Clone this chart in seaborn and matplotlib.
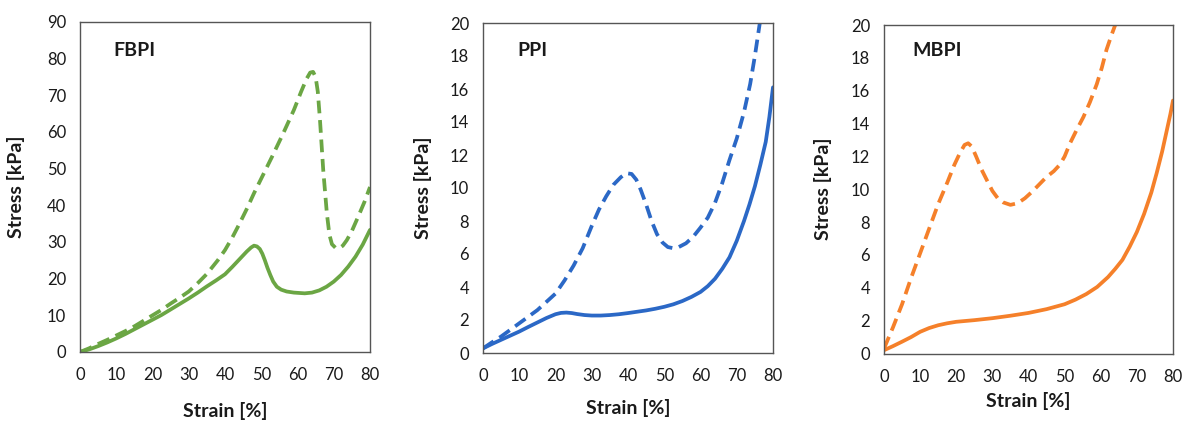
import numpy as np
import pandas as pd
import matplotlib
matplotlib.use("Agg")
import matplotlib.pyplot as plt
import seaborn as sns

# ---------------- data ----------------
fbpi_solid_x = [0, 2.5, 5, 7.5, 10, 12.5, 15, 17.5, 20, 22.5, 25, 27.5, 30, 32.5, 35, 37.5, 40, 42, 44, 46,
                47.2, 48, 48.8, 49.6, 50.3, 51, 51.7, 52.5, 53.3, 54.3, 55.5, 57, 59, 62, 64, 66, 68, 70,
                72, 74, 76, 78, 80]
fbpi_solid_y = [0, 0.7, 1.6, 2.6, 3.7, 4.9, 6.2, 7.5, 8.8, 10.1, 11.6, 13.1, 14.6, 16.2, 17.9, 19.5, 21.2, 23.2,
                25.3, 27.4, 28.5, 29.0, 28.8, 28.1, 26.8, 25.0, 23.0, 21.0, 19.2, 17.8, 17.0, 16.5, 16.2, 16.0,
                16.2, 16.8, 17.8, 19.2, 21.0, 23.3, 26.0, 29.3, 33.3]
fbpi_dash_x = [0, 2.5, 5, 7.5, 10, 12.5, 15, 17.5, 20, 22.5, 25, 27.5, 30, 32.5, 35, 38, 40, 42, 44, 46, 48,
               50, 53, 56, 59, 61, 62.5, 63.5, 64.3, 65, 65.6, 66.2, 67.1, 68.1, 68.8, 69.5, 70.5, 71.5,
               72.5, 73.6, 75, 77, 78.5, 80]
fbpi_dash_y = [0, 1.0, 2.2, 3.3, 4.5, 5.7, 7.0, 8.5, 10.0, 11.5, 13.2, 14.8, 16.5, 18.8, 21.3, 25.0, 27.8, 31.2,
               35.0, 39.0, 43.3, 47.3, 53.3, 59.5, 66.0, 71.0, 74.5, 76.2, 76.4, 75.0, 71.0, 63.3, 49.6,
               37.8, 32.0, 29.4, 28.4, 28.3, 29.0, 30.5, 33.0, 37.5, 41.0, 45.0]

ppi_solid_x = [0, 2.5, 5, 7.5, 10, 12.5, 15, 17.5, 20, 21.5, 23, 24.5, 26, 28, 30, 32.5, 35, 37.5, 40, 42.5,
               45, 47.5, 50, 52.5, 55, 57.5, 60, 62, 64, 66, 68, 70, 72, 73.5, 75, 76.5, 78, 79, 80]
ppi_solid_y = [0.28, 0.55, 0.8, 1.05, 1.3, 1.58, 1.85, 2.12, 2.35, 2.43, 2.45, 2.42, 2.36, 2.3, 2.27, 2.27,
               2.3, 2.35, 2.42, 2.5, 2.58, 2.68, 2.8, 2.95, 3.15, 3.4, 3.7, 4.05, 4.5, 5.1, 5.8, 6.8, 8.0,
               9.0, 10.1, 11.4, 12.8, 14.3, 16.1]
ppi_dash_x = [0, 2.5, 5, 7.5, 10, 12.5, 15, 17.5, 20, 22.5, 25, 27.5, 30, 32, 34, 36, 38, 39.5, 41, 42.3,
              43.5, 45, 46.5, 48, 49.5, 51, 52.5, 54, 56, 58, 60, 62, 64, 66, 68, 70, 72, 73.7, 75, 76.5]
ppi_dash_y = [0.28, 0.65, 1.0, 1.4, 1.8, 2.2, 2.6, 3.1, 3.6, 4.4, 5.3, 6.35, 7.7, 8.7, 9.5, 10.2, 10.65, 10.9,
              10.85, 10.5, 9.9, 9.0, 8.0, 7.2, 6.7, 6.42, 6.35, 6.42, 6.65, 7.05, 7.6, 8.2, 9.1, 10.3,
              11.7, 13.0, 14.6, 16.3, 18.0, 20.2]

mbpi_solid_x = [0, 2.5, 5, 7.5, 10, 12.5, 15, 17.5, 20, 25, 30, 35, 40, 45, 50, 53, 56, 59, 62, 64, 66, 68,
                70, 72, 74, 75.5, 77, 78.3, 79.3, 80]
mbpi_solid_y = [0.2, 0.45, 0.72, 1.0, 1.32, 1.55, 1.72, 1.84, 1.93, 2.03, 2.15, 2.3, 2.47, 2.7, 3.0, 3.28,
                3.62, 4.05, 4.65, 5.15, 5.7, 6.5, 7.4, 8.5, 9.8, 11.0, 12.3, 13.6, 14.6, 15.4]
mbpi_dash_x = [0, 2.5, 5, 7.5, 10, 12.5, 15, 17.5, 19.5, 21, 22.3, 23.3, 24.3, 25.5, 27, 28.6, 30, 31.5, 33,
               35, 37, 39, 41, 43, 45, 47, 48.7, 50, 51.5, 53.3, 55.2, 57, 58.9, 60.3, 61.6, 63, 64.5]
mbpi_dash_y = [0.3, 1.6, 3.0, 4.6, 6.1, 7.6, 9.1, 10.4, 11.5, 12.2, 12.7, 12.8, 12.6, 12.0, 11.2, 10.5, 9.9,
               9.45, 9.2, 9.05, 9.15, 9.45, 9.85, 10.3, 10.75, 11.1, 11.5, 12.0, 12.8, 13.6, 14.4, 15.3,
               16.4, 17.4, 18.5, 19.4, 20.3]

panel_titles = ["FBPI", "PPI", "MBPI"]
x_ticks = [0, 10, 20, 30, 40, 50, 60, 70, 80]
y_ticks_fbpi = list(range(0, 91, 10))
y_ticks_other = list(range(0, 21, 2))

# ---------------- style ----------------
sns.set_theme(style="white")
plt.rcParams['font.family'] = ['Lato', 'DejaVu Sans']

green = "#6BA644"
blue = "#2B68C6"
orange = "#F5802A"

fig = plt.figure(figsize=(11.82, 4.22), dpi=100)

positions = [
    [80 / 1182, 1 - 352 / 422, 290 / 1182, 330 / 422],
    [483 / 1182, 1 - 353 / 422, 290 / 1182, 330 / 422],
    [884 / 1182, 1 - 353.5 / 422, 289 / 1182, 328.5 / 422],
]
xlab_y = [-0.152, -0.140, -0.117]
ylab_x = [-0.19, -0.176, -0.18]
title_pos = [(0.114, 0.915), (0.117, 0.918), (0.097, 0.922)]

series = [
    (fbpi_solid_x, fbpi_solid_y, fbpi_dash_x, fbpi_dash_y, green, 90, y_ticks_fbpi),
    (ppi_solid_x, ppi_solid_y, ppi_dash_x, ppi_dash_y, blue, 20, y_ticks_other),
    (mbpi_solid_x, mbpi_solid_y, mbpi_dash_x, mbpi_dash_y, orange, 20, y_ticks_other),
]

for i, (sx, sy, dx, dy, col, ymax, yt) in enumerate(series):
    ax = fig.add_axes(positions[i])
    df_s = pd.DataFrame({"x": sx, "y": sy})
    df_d = pd.DataFrame({"x": dx, "y": dy})
    sns.lineplot(data=df_d, x="x", y="y", ax=ax, color=col, lw=2.7,
                 estimator=None, sort=False)
    ax.lines[-1].set_dashes([3.4, 1.8])
    ax.lines[-1].set_solid_joinstyle("round")
    ax.lines[-1].set_dash_capstyle("butt")
    sns.lineplot(data=df_s, x="x", y="y", ax=ax, color=col, lw=2.7,
                 estimator=None, sort=False)
    ax.lines[-1].set_solid_joinstyle("round")
    ax.set_xlim(0, 80)
    ax.set_ylim(0, ymax)
    ax.set_xticks(x_ticks)
    ax.set_yticks(yt)
    ax.tick_params(direction="in", length=5, width=1, colors="#555555",
                   labelcolor="#1a1a1a", labelsize=12)
    ax.tick_params(axis="x", pad=11)
    ax.tick_params(axis="y", pad=10)
    for sp in ax.spines.values():
        sp.set_visible(True)
        sp.set_color("#555555")
        sp.set_linewidth(1.0)
    ax.set_xlabel("Strain [%]", fontsize=14, fontweight="bold", color="#1a1a1a")
    ax.set_ylabel("Stress [kPa]", fontsize=14, fontweight="bold", color="#1a1a1a")
    ax.xaxis.set_label_coords(0.5, xlab_y[i])
    ax.yaxis.set_label_coords(ylab_x[i], 0.5)
    ax.text(title_pos[i][0], title_pos[i][1], panel_titles[i], transform=ax.transAxes,
            fontsize=14, fontweight="bold", color="#1a1a1a", ha="left", va="center")

fig.savefig("out.png", dpi=100)
